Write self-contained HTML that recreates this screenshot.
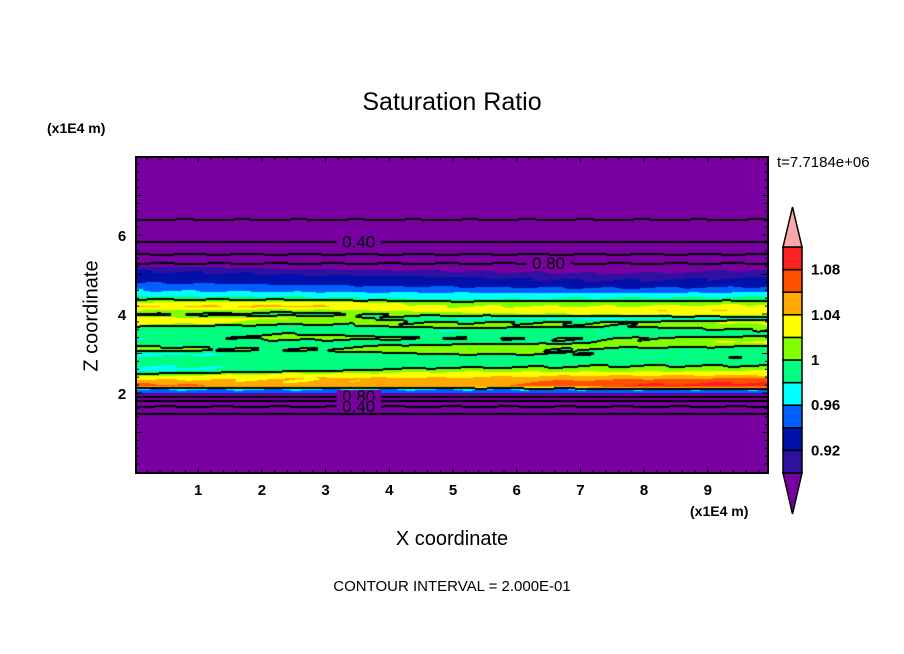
<!DOCTYPE html>
<html><head><meta charset="utf-8"><style>
body{margin:0;background:#fff;width:904px;height:654px;overflow:hidden;position:relative;font-family:"Liberation Sans","DejaVu Sans",sans-serif}
.t{position:absolute;white-space:nowrap;color:#000}
</style></head><body>
<div class="t" style="left:0;width:904px;text-align:center;top:88px;font-size:25px">Saturation Ratio</div>
<div class="t" style="left:47px;top:120px;font-size:14px;font-weight:bold">(x1E4 m)</div>
<div class="t" style="left:777px;top:154px;font-size:15px">t=7.7184e+06</div>
<div class="t" style="left:92px;top:316px;font-size:20px;transform:translate(-50%,-50%) rotate(-90deg)">Z coordinate</div>
<div class="t" style="left:690px;top:503px;font-size:14px;font-weight:bold">(x1E4 m)</div>
<div class="t" style="left:0;width:904px;text-align:center;top:528px;font-size:20px">X coordinate</div>
<div class="t" style="left:0;width:904px;text-align:center;top:578px;font-size:15px">CONTOUR INTERVAL = 2.000E-01</div>
<canvas id="cv" width="632" height="316" style="position:absolute;left:136px;top:157px"></canvas>
<svg id="sv" width="904" height="654" style="position:absolute;left:0;top:0"></svg>
<script>
// field data: rows at z (x1E4 m), values at x columns
const xCols=[0,2.5,5,7.5,10];
const zRows=[8,6.6,6.4,5.84,5.52,5.29,5.2,5.1,5.0,4.9,4.8,4.7,4.6,4.5,4.4,4.3,4.2,4.1,4.0,3.9,3.8,3.7,3.6,3.5,3.4,3.3,3.2,3.1,3.0,2.9,2.8,2.7,2.6,2.5,2.4,2.3,2.2,2.15,2.1,2.03,1.92,1.8,1.67,1.49,1.2,0];
const vals=[
[0.05,0.05,0.05,0.05,0.05],[0.12,0.12,0.12,0.12,0.12],[0.2,0.2,0.2,0.2,0.2],[0.4,0.4,0.4,0.4,0.4],[0.6,0.6,0.6,0.6,0.6],[0.8,0.8,0.8,0.8,0.8],
[0.91,0.89,0.88,0.88,0.89],[0.92,0.91,0.9,0.89,0.905],[0.93,0.92,0.915,0.905,0.915],[0.925,0.93,0.925,0.915,0.925],[0.94,0.935,0.93,0.925,0.93],
[0.95,0.945,0.94,0.935,0.94],[0.96,0.955,0.955,0.95,0.955],[0.975,0.97,0.965,0.965,0.97],[0.995,0.99,0.975,0.985,0.99],[1.02,1.03,1.01,1.01,1.01],
[1.04,1.045,1.02,1.02,1.03],[1.02,1.01,1.03,1.04,1.04],[1.0,0.99,1.01,1.02,1.03],[1.03,1.02,0.98,0.97,0.98],[1.04,1.01,1.0,1.0,1.03],
[1.0,0.99,1.01,1.0,1.01],[0.99,0.99,0.98,0.99,1.0],[0.99,1.0,0.99,0.98,0.99],[0.98,1.01,1.0,1.0,1.01],[0.99,0.99,0.985,1.0,1.03],
[1.0,0.99,1.01,1.01,1.0],[1.01,1.0,1.02,0.99,0.98],[0.97,0.985,1.0,1.0,0.99],[0.99,0.99,0.99,0.99,1.0],[1.0,1.0,0.99,0.985,0.98],
[0.98,0.985,0.99,1.0,1.0],[0.97,0.99,1.01,1.01,1.02],[1.0,1.02,1.03,1.03,1.03],[1.03,1.04,1.04,1.05,1.06],[1.05,1.04,1.05,1.07,1.08],
[1.07,1.05,1.05,1.08,1.09],[1.03,1.03,1.03,1.04,1.04],[0.96,0.96,0.96,0.96,0.96],[0.95,0.95,0.95,0.95,0.95],[0.8,0.8,0.8,0.8,0.8],
[0.6,0.6,0.6,0.6,0.6],[0.4,0.4,0.4,0.4,0.4],[0.2,0.2,0.2,0.2,0.2],[0.1,0.1,0.1,0.1,0.1],[0.05,0.05,0.05,0.05,0.05]];
const levels=[0.9,0.92,0.94,0.96,0.98,1.0,1.02,1.04,1.06,1.08,1.1];
const levelColors=['#7800a0','#3010a0','#0010a8','#0060ff','#00ffff','#00ff80','#80ff00','#ffff00','#ffa800','#ff5000','#ff2020','#f8a8a8'];
const xTicks=[1,2,3,4,5,6,7,8,9];
const yTicks=[2,4,6];
const cbLabels=['0.92','0.96','1','1.04','1.08'];
const contourLabels=[['0.40',3.52,5.84],['0.80',6.5,5.29],['0.80',3.52,1.92],['0.40',3.52,1.67]];

const PL=136,PT=157,PW=632,PH=316;
const xs=x=>134.5+x*63.7, zs=z=>472-z*39.5;
function field(x,z){
  let i=0; while(i<zRows.length-2 && zRows[i+1]>z) i++;
  const z0=zRows[i],z1=zRows[i+1],t=(z0-z)/(z0-z1);
  let j=0; while(j<xCols.length-2 && xCols[j+1]<x) j++;
  const u=Math.max(0,Math.min(1,(x-xCols[j])/(xCols[j+1]-xCols[j])));
  const a=vals[i][j]*(1-u)+vals[i][j+1]*u, b=vals[i+1][j]*(1-u)+vals[i+1][j+1]*u;
  return a*(1-t)+b*t;
}
function hex(c){return [parseInt(c.slice(1,3),16),parseInt(c.slice(3,5),16),parseInt(c.slice(5,7),16)];}
const cv=document.getElementById('cv'),ctx=cv.getContext('2d'),img=ctx.createImageData(PW,PH);
const V=[];
for(let py=0;py<PH;py++){V[py]=[];for(let px=0;px<PW;px++){
  const x=(PL+px-134.5)/63.7, z=(472-(PT+py))/39.5;
  V[py][px]=field(x,z)+0.004*Math.sin(px*0.11+py*0.7)*Math.sin(py*0.37);}}
const ci=(py,px)=>Math.floor(V[py][px]/0.2+1e-9);
for(let py=0;py<PH;py++)for(let px=0;px<PW;px++){
  const v=V[py][px]; let k=0; while(k<levels.length&&v>=levels[k])k++;
  let c=hex(levelColors[Math.min(k,levelColors.length-2)]);
  const c0=ci(py,px);
  if((py<PH-1&&ci(py+1,px)!==c0)||(py>0&&ci(py-1,px)!==c0)||(px<PW-1&&ci(py,px+1)!==c0)) c=[0,0,0];
  const o=(py*PW+px)*4; img.data[o]=c[0];img.data[o+1]=c[1];img.data[o+2]=c[2];img.data[o+3]=255;}
ctx.putImageData(img,0,0);

const sv=document.getElementById('sv'),NS='http://www.w3.org/2000/svg';
function mk(tag,at,txt){const e=document.createElementNS(NS,tag);for(const k in at)e.setAttribute(k,at[k]);if(txt!==undefined)e.textContent=txt;sv.appendChild(e);return e;}
contourLabels.forEach(l=>{
  const r=mk('rect',{x:xs(l[1])-22,y:zs(l[2])-6,width:44,height:11,fill:'#7800a0'});
  
  
  const t=mk('text',{x:xs(l[1]),y:zs(l[2])+6,'text-anchor':'middle','font-size':17,fill:'#000'},l[0]);
  
  
});
const fr=mk('rect',{x:PL,y:PT,width:PW,height:PH,fill:'none',stroke:'#000','stroke-width':2});


for(let k=1;k<50;k++){const x=xs(k*0.2);if(x>=PL+PW)break;const L=k%5===0?6:3;
  mk('line',{x1:x,x2:x,y1:PT+PH,y2:PT+PH-L,stroke:'#000'});mk('line',{x1:x,x2:x,y1:PT,y2:PT+L,stroke:'#000'});}
for(let k=1;k<40;k++){const y=zs(k*0.2);if(y<=PT)break;const L=k%5===0?6:3;
  mk('line',{x1:PL,x2:PL+L,y1:y,y2:y,stroke:'#000'});mk('line',{x1:PL+PW,x2:PL+PW-L,y1:y,y2:y,stroke:'#000'});}
xTicks.forEach(v=>{const t=mk('text',{x:xs(v),y:495,'text-anchor':'middle','font-size':15,'font-weight':'bold'},v);
  
  });
yTicks.forEach(v=>{const t=mk('text',{x:122,y:zs(v)+6,'text-anchor':'middle','font-size':15,'font-weight':'bold'},v);
  
  });
// colorbar
const CX=783,CW=19,CB=473,CH=22.6;
for(let i=0;i<10;i++){const r=mk('rect',{x:CX,y:CB-(i+1)*CH,width:CW,height:CH,fill:levelColors[i+1],stroke:'#000','stroke-width':1.5});
  
  }
const tp=mk('polygon',{points:`${CX},${CB-10*CH} ${CX+CW},${CB-10*CH} ${CX+CW/2},207`,fill:levelColors[11],stroke:'#000','stroke-width':1.5});


const bt=mk('polygon',{points:`${CX},${CB} ${CX+CW},${CB} ${CX+CW/2},514`,fill:levelColors[0],stroke:'#000','stroke-width':1.5});


cbLabels.forEach((s,i)=>{const t=mk('text',{x:811,y:CB-(1+2*i)*CH+5,'font-size':15,'font-weight':'bold'},s);
  
  });
</script>
</body></html>
